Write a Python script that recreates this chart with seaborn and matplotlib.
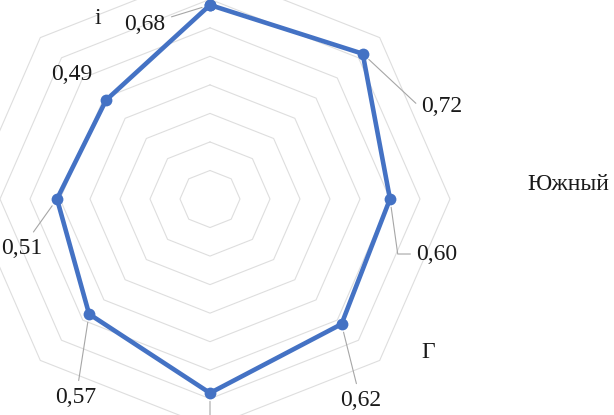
import numpy as np
import pandas as pd
import matplotlib
matplotlib.use("Agg")
import matplotlib.pyplot as plt
import seaborn as sns

# data (axes go clockwise from the top)
categories = ["", "", "Южный", "Г", "", "", "", "i"]
values = [0.68, 0.72, 0.60, 0.62, 0.68, 0.57, 0.51, 0.49]
value_labels = ["0,68", "0,72", "0,60", "0,62", "", "0,57", "0,51", "0,49"]
rings = [0.1, 0.2, 0.3, 0.4, 0.5, 0.6, 0.7, 0.8]

sns.set_theme(style="white")
plt.rcParams["font.family"] = ["Liberation Serif", "DejaVu Serif"]

n = len(values)
angles = np.arange(n) * 2 * np.pi / n

def to_xy(r, a):
    return r * np.sin(a), r * np.cos(a)

fig = plt.figure(figsize=(6.14, 4.15), dpi=100)
ax = fig.add_axes([0, 0, 1, 1])
ax.set_xlim(-0.70, 1.3467)
ax.set_ylim(-0.757, 0.6975)
ax.axis("off")

# octagon grid
closed = np.append(angles, angles[0])
for r in rings:
    gx, gy = to_xy(r, closed)
    ax.plot(gx, gy, color="#dedede", lw=0.8, zorder=1)

# the series
px, py = to_xy(np.array(values + values[:1]), closed)
df = pd.DataFrame({"x": px, "y": py})
sns.lineplot(data=df, x="x", y="y", sort=False, estimator=None, ax=ax,
             color="#4472c4", lw=3.3, marker="o", markersize=8.5,
             markeredgewidth=0, zorder=3)

# data labels with leader lines (offsets in pixels)
offsets = [(-65, -20), (79, -53), (47, -55), (19, -76), (0, -60),
           (-13, -83), (-35, -49), (-34, 26)]
conn = [None, "angle,angleA=180,angleB=-43,rad=0",
        "angle,angleA=180,angleB=-82,rad=0", None, None, None, None, None]
leader = [True, True, True, True, True, True, True, False]
for i, (lab, (dx, dy)) in enumerate(zip(value_labels, offsets)):
    x0, y0 = to_xy(values[i], angles[i])
    props = None
    if leader[i]:
        props = dict(arrowstyle="-", color="#a6a6a6", lw=0.8,
                     shrinkA=2, shrinkB=6)
        if conn[i]:
            props["connectionstyle"] = conn[i]
    ax.annotate(lab, xy=(x0, y0), xytext=(dx, dy), textcoords="offset pixels",
                ha="center", va="center", fontsize=17, color="#1a1a1a",
                arrowprops=props, zorder=4)

# category labels (only the visible ones)
cat_pos = {2: (527, 184), 3: (428, 352), 7: (98, 18)}
for i, (cx, cy) in cat_pos.items():
    ax.text(cx / 614, 1 - cy / 415, categories[i], transform=ax.transAxes,
            ha="left" if i == 2 else "center", va="center",
            fontsize=17, color="#1a1a1a")

fig.savefig("out.png", dpi=100)
